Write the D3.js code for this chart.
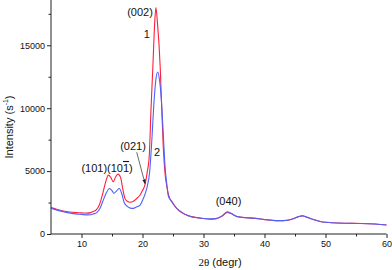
<!DOCTYPE html>
<html><head><meta charset="utf-8">
<script src="https://cdn.jsdelivr.net/npm/d3@7/dist/d3.min.js"></script>
<style>
body{margin:0;background:#fff;}
text{font-family:"Liberation Sans",Arial,sans-serif;fill:#111;}
</style></head>
<body><svg id="c" width="392" height="270"></svg>
<script>
// 2-theta positions (deg) and intensities (counts/s)
const theta1 = [5,6,7,8,9,10,11,11.5,12,12.5,13,13.5,14,14.4,14.8,15.2,15.6,16.0,16.4,16.8,17.1,17.5,18.0,18.5,19,19.6,20.0,20.4,20.8,21.1,21.4,21.7,22.0,22.2,22.45,22.9,23.15,23.4,23.7,24.0,24.4,24.8,25.5,26,27,28,29,30,31,32,33,33.9,34.5,35.5,37,38.5,40,41,42.5,43.5,44.5,45.5,46.2,47,48,49.5,51,53,55,57,59,60];
const red1   = [2100,1950,1830,1750,1700,1680,1660,1700,1800,1950,2400,3250,4200,4680,4500,4150,4550,4760,4500,3500,2850,2600,2520,2600,2800,3100,3450,3900,5000,6130,10000,13300,16800,18000,16800,13300,10000,7000,4800,3750,2900,2600,2100,1850,1550,1380,1300,1230,1170,1200,1400,1720,1630,1390,1290,1240,1140,1090,1050,1070,1180,1370,1450,1320,1150,950,900,860,850,815,760,720];
const theta2 = [5,6,7,8,9,10,11,11.5,12,12.5,13,13.5,14,14.6,15.0,15.3,15.8,16.2,16.6,17.0,17.5,18.0,18.5,19,19.6,20.2,20.7,21.2,21.5,21.9,22.2,22.5,22.8,23.1,23.4,23.7,24.0,24.2,24.6,25,25.5,26,27,28,29,30,31,32,33,33.9,34.5,35.5,37,38.5,40,41,42.5,43.5,44.5,45.5,46.2,47,48,49.5,51,53,55,57,59,60];
const blue2  = [2050,1900,1780,1680,1600,1560,1520,1530,1600,1700,2000,2600,3200,3620,3450,3230,3450,3620,3200,2500,2200,2060,2040,2150,2300,2900,3620,5080,7200,10600,12300,12880,12200,10600,8000,5340,3900,3100,2700,2400,2100,1880,1560,1370,1290,1230,1200,1230,1430,1770,1650,1380,1300,1250,1150,1100,1060,1080,1190,1360,1440,1330,1160,950,900,860,840,820,760,710];
const xTicks = [10,20,30,40,50,60];
const yTicks = [0,5000,10000,15000];
const annotations = [
  {t:"(002)", x:19.6, y:17330},
  {t:"1", x:20.69, y:15580},
  {t:"2", x:22.38, y:6200},
  {t:"(021)", x:18.44, y:6680},
  {t:"(101)", x:12.1, y:4930},
  {t:"(101bar)", x:16.3, y:4930},
  {t:"(040)", x:34.1, y:2300}
];
const arrow = {x1:19.05, y1:6500, x2:20.42, y2:4000};

const svg = d3.select("#c");
const x = d3.scaleLinear().domain([5,60]).range([51,386.5]);
const y = d3.scaleLinear().domain([0,18600]).range([234,0]);

svg.append("defs").append("marker").attr("id","ah").attr("viewBox","0 0 10 10")
  .attr("refX",9).attr("refY",5).attr("markerWidth",6).attr("markerHeight",6)
  .attr("orient","auto").append("path").attr("d","M0,1.5L10,5L0,8.5Z").attr("fill","#222");

const line = d3.line().x(d=>x(d[0])).y(d=>y(d[1])).curve(d3.curveMonotoneX);
svg.append("path").datum(theta1.map((t,i)=>[t,red1[i]])).attr("d",line)
  .attr("fill","none").attr("stroke","#ff1f3a").attr("stroke-width",1.1);
svg.append("path").datum(theta2.map((t,i)=>[t,blue2[i]])).attr("d",line)
  .attr("fill","none").attr("stroke","#5060ff").attr("stroke-width",1.1);

const xAxis = svg.append("g").attr("transform","translate(0,234)");
xAxis.call(d3.axisBottom(x).tickValues(d3.range(15,60,10)).tickSize(2.5).tickFormat(""));
const xMaj = svg.append("g").attr("transform","translate(0,234)")
  .call(d3.axisBottom(x).tickValues(xTicks).tickSize(4).tickPadding(3));
const yMin = svg.append("g").attr("transform","translate(51,0)")
  .call(d3.axisLeft(y).tickValues([2500,7500,12500,17500]).tickSize(2.5).tickFormat(""));
const yMaj = svg.append("g").attr("transform","translate(51,0)")
  .call(d3.axisLeft(y).tickValues(yTicks).tickSize(4).tickPadding(2).tickFormat(d3.format("d")));
xAxis.select(".domain").remove(); yMin.select(".domain").remove();
xMaj.select(".domain").attr("d","M51,0H386.5").attr("stroke","#222");
yMaj.select(".domain").attr("d","M0,0V234").attr("stroke","#222");
svg.selectAll(".tick line").attr("stroke","#222");
svg.selectAll(".tick text").attr("font-size",9).attr("fill","#111")
  .style("font-family","Liberation Sans, Arial, sans-serif");

const yl = svg.append("text").attr("transform","translate(12.5,127) rotate(-90)")
  .attr("text-anchor","middle").attr("font-size",11);
yl.append("tspan").text("Intensity (s");
yl.append("tspan").attr("font-size",7).attr("dy",-4.5).text("-1");
yl.append("tspan").attr("dy",4.5).text(")");
const xl = svg.append("text").attr("x",220).attr("y",266).attr("text-anchor","middle").attr("font-size",11);
xl.append("tspan").style("font-family","Liberation Serif, Times New Roman, serif").text("2θ");
xl.append("tspan").text(" (degr)");

annotations.forEach(a=>{
  const t = svg.append("text").attr("x",x(a.x)).attr("y",y(a.y))
    .attr("text-anchor","middle").attr("font-size",11);
  if(a.t==="(101bar)"){
    t.append("tspan").text("(10");
    t.append("tspan").style("text-decoration","overline").text("1");
    t.append("tspan").text(")");
  } else t.text(a.t);
});
svg.append("line").attr("x1",x(arrow.x1)).attr("y1",y(arrow.y1))
  .attr("x2",x(arrow.x2)).attr("y2",y(arrow.y2))
  .attr("stroke","#444").attr("stroke-width",0.8).attr("marker-end","url(#ah)");
</script></body></html>
